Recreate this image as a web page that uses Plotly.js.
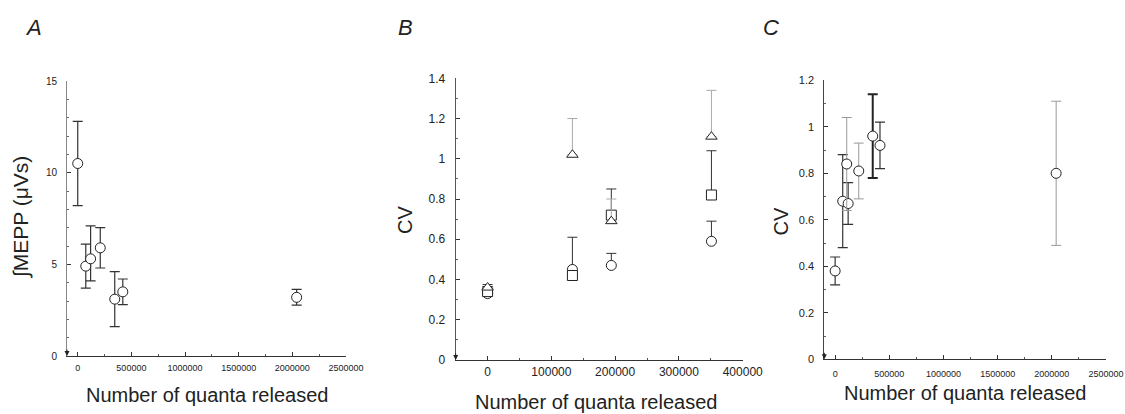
<!DOCTYPE html>
<html>
<head>
<meta charset="utf-8">
<script src="https://cdn.plot.ly/plotly-3.0.1.min.js"></script>
<style>
  html, body { margin: 0; padding: 0; background: #fff; }
  #chart { width: 1125px; height: 414px; }
</style>
</head>
<body>
<div id="chart"></div>
<script>
// Panel A: integrated MEPP against number of quanta released
const quantaA = [0, 75000, 120000, 210000, 345000, 420000, 2040000];
const meppA = [10.5, 4.9, 5.3, 5.9, 3.1, 3.5, 3.2];
const meppErrUpA = [2.3, 1.2, 1.8, 1.1, 1.5, 0.7, 0.43];
const meppErrDownA = [2.3, 1.2, 1.2, 1.1, 1.5, 0.7, 0.43];

// Panel B: CV for three groups (circles, squares, triangles)
const quantaB = [0, 133000, 194000, 351000];
const cvCircleB = [0.33, 0.45, 0.47, 0.59];
const cvCircleErrB = [0.045, 0.16, 0.06, 0.10];
const cvSquareB = [0.34, 0.42, 0.72, 0.82];
const cvSquareErrB = [0, 0, 0.13, 0.22];
const cvTriangleB = [0.36, 1.02, 0.69, 1.11];
const cvTriangleErrB = [0, 0.18, 0.11, 0.23];

// Panel C: CV against number of quanta released
const quantaC = [0, 70000, 107000, 120000, 218000, 347000, 414000, 2040000];
const cvC = [0.38, 0.68, 0.84, 0.67, 0.81, 0.96, 0.92, 0.80];
const cvErrC = [0.06, 0.20, 0.20, 0.09, 0.12, 0.18, 0.10, 0.31];

// Tick values
const xTicksWide = [0, 500000, 1000000, 1500000, 2000000, 2500000];
const xTicksB = [0, 100000, 200000, 300000, 400000];
const yTicksA = [0, 5, 10, 15];
const yTicksB = [0, 0.2, 0.4, 0.6, 0.8, 1, 1.2, 1.4];
const yTicksC = [0, 0.2, 0.4, 0.6, 0.8, 1, 1.2];

const W = 1125, H = 414;
const px = v => v / W;
const py = v => 1 - v / H;
const FONT = 'Liberation Sans, Arial, Helvetica, sans-serif';
const INK = '#222';

const pick = (arr, idx) => idx.map(i => arr[i]);

function markerStyle(symbol) {
  return { symbol: symbol, size: 10, color: '#fff', line: { color: INK, width: 1 } };
}
function errStyle(plus, minus, color, thick) {
  const e = { type: 'data', array: plus, color: color, thickness: thick, width: 5 };
  if (minus) { e.symmetric = false; e.arrayminus = minus; }
  return e;
}

const traces = [];

// Panel A
traces.push({
  x: quantaA, y: meppA, xaxis: 'x', yaxis: 'y', mode: 'markers', type: 'scatter',
  marker: markerStyle('circle'),
  error_y: errStyle(meppErrUpA, meppErrDownA, '#333', 1.2),
  cliponaxis: false, showlegend: false
});

// Panel B (error bars drawn upward only)
const zerosB = quantaB.map(() => 0);
traces.push({
  x: quantaB, y: cvCircleB, xaxis: 'x2', yaxis: 'y2', mode: 'markers', type: 'scatter',
  marker: markerStyle('circle'),
  error_y: errStyle(cvCircleErrB, zerosB, '#333', 1),
  cliponaxis: false, showlegend: false
});
traces.push({
  x: quantaB, y: cvSquareB, xaxis: 'x2', yaxis: 'y2', mode: 'markers', type: 'scatter',
  marker: markerStyle('square'),
  error_y: errStyle(cvSquareErrB, zerosB, '#333', 1),
  cliponaxis: false, showlegend: false
});
traces.push({
  x: quantaB, y: cvTriangleB, xaxis: 'x2', yaxis: 'y2', mode: 'markers', type: 'scatter',
  marker: markerStyle('triangle-up'),
  error_y: errStyle(cvTriangleErrB, zerosB, '#aaa', 1),
  cliponaxis: false, showlegend: false
});

// Panel C: three bar weights
const groupsC = [
  { idx: [0, 1, 3, 6], color: '#333', thick: 1.2 },
  { idx: [2, 4, 7], color: '#999', thick: 1 },
  { idx: [5], color: '#222', thick: 2 }
];
groupsC.forEach(g => {
  traces.push({
    x: pick(quantaC, g.idx), y: pick(cvC, g.idx), xaxis: 'x3', yaxis: 'y3', mode: 'markers', type: 'scatter',
    marker: markerStyle('circle'),
    error_y: errStyle(pick(cvErrC, g.idx), null, g.color, g.thick),
    cliponaxis: false, showlegend: false
  });
});

function xAxis(domain, range, tickvals, size, minorDt, anchor, standoff) {
  return {
    domain: domain, range: range, tickvals: tickvals, tickformat: 'd', anchor: anchor,
    showgrid: false, zeroline: false, showline: true, linecolor: '#333', linewidth: 1,
    ticks: 'inside', ticklen: 4, tickcolor: '#333', ticklabelstandoff: standoff,
    minor: { ticks: 'inside', ticklen: 2, dtick: minorDt, tickcolor: '#555', showgrid: false },
    tickfont: { family: FONT, size: size, color: INK }, fixedrange: true
  };
}
function yAxis(domain, range, tickvals, size, minorDt, anchor, lineColor) {
  return {
    domain: domain, range: range, tickvals: tickvals, anchor: anchor,
    showgrid: false, zeroline: false, showline: true, linecolor: lineColor, linewidth: 1,
    ticks: 'inside', ticklen: 4, tickcolor: '#333', ticklabelstandoff: 7,
    minor: { ticks: 'inside', ticklen: 2, dtick: minorDt, tickcolor: '#666', showgrid: false },
    tickfont: { family: FONT, size: size, color: INK }, fixedrange: true
  };
}

function label(text, x, y, size, angle) {
  const a = { text: text, xref: 'paper', yref: 'paper', x: px(x), y: py(y),
    xanchor: 'center', yanchor: 'middle', showarrow: false,
    font: { size: size, family: FONT, color: INK } };
  if (angle) a.textangle = angle;
  return a;
}
function footArrow(xr, yr, x0) {
  return { text: '', xref: xr, yref: yr, x: x0, y: 0, ax: 0, ay: -8, showarrow: true,
    arrowhead: 2, arrowsize: 1, arrowwidth: 1, arrowcolor: '#222' };
}

const layout = {
  width: W, height: H,
  margin: { l: 0, r: 0, t: 0, b: 0 },
  paper_bgcolor: '#fff', plot_bgcolor: '#fff',
  showlegend: false,
  font: { family: FONT, color: INK },
  xaxis: xAxis([px(67), px(346)], [-100000, 2500000], xTicksWide, 9, 250000, 'y', 3),
  yaxis: yAxis([1 - 356 / H, 1 - 81 / H], [0, 15], yTicksA, 10, 1, 'x', '#888'),
  xaxis2: xAxis([px(455.7), px(742.7)], [-50000, 400000], xTicksB, 12, 50000, 'y2', 1),
  yaxis2: yAxis([1 - 360 / H, 1 - 78.3 / H], [0, 1.4], yTicksB, 12, 0.1, 'x2', '#555'),
  xaxis3: xAxis([px(824.3), px(1106)], [-100000, 2500000], xTicksWide, 9, 250000, 'y3', 6),
  yaxis3: yAxis([1 - 359.3 / H, 1 - 80.3 / H], [0, 1.2], yTicksC, 11, 0.1, 'x3', '#444'),
  annotations: [
    // panel letters
    label('<i>A</i>', 33, 28, 22),
    label('<i>B</i>', 405, 28, 22),
    label('<i>C</i>', 771, 28, 22),
    // x-axis titles
    label('Number of quanta released', 206.5, 395, 20),
    label('Number of quanta released', 596, 401.5, 20),
    label('Number of quanta released', 965, 393, 20),
    // y-axis titles
    label('∫MEPP (μVs)', 21, 217, 21, -90),
    label('CV', 405, 220, 20, -90),
    label('CV', 780, 221.5, 20, -90),
    // arrowheads at the foot of each y-axis
    footArrow('x', 'y', -100000),
    footArrow('x2', 'y2', -50000),
    footArrow('x3', 'y3', -100000)
  ]
};

Plotly.newPlot('chart', traces, layout, { displayModeBar: false, staticPlot: true });
</script>
</body>
</html>
